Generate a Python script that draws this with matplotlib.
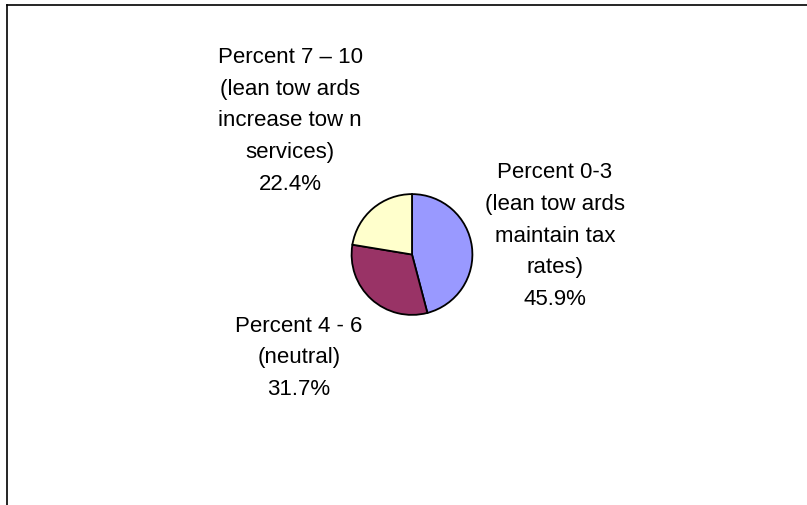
import matplotlib.pyplot as plt
from matplotlib.lines import Line2D

# Survey responses: share of each rating group
categories = [
    "Percent 0-3\n(lean tow ards\nmaintain tax\nrates)",
    "Percent 4 - 6\n(neutral)",
    "Percent 7 \u2013 10\n(lean tow ards\nincrease tow n\nservices)",
]
shares = [45.9, 31.7, 22.4]
colors = ["#9999FF", "#993366", "#FFFFCC"]

# label centres in pixel coordinates (x, y from top)
label_pos = [(555, 236), (299, 358), (290, 121)]

W, H = 807, 505
fig = plt.figure(figsize=(W / 100, H / 100), dpi=100)
plt.rcParams["font.family"] = ["Liberation Sans", "DejaVu Sans"]

# chart frame (only top and left edges fall inside the image)
fig.add_artist(Line2D([7 / W, 1], [1 - 5 / H, 1 - 5 / H], color="black", lw=1.2))
fig.add_artist(Line2D([7 / W, 7 / W], [1 - 5 / H, 0], color="black", lw=1.2))

cx, cy, r = 412, 254.5, 61
ax = fig.add_axes([(cx - r) / W, 1 - (cy + r) / H, 2 * r / W, 2 * r / H])
ax.pie(shares, colors=colors, startangle=90, counterclock=False,
       wedgeprops=dict(edgecolor="black", linewidth=1.3))
ax.set_xlim(-1.01, 1.01)
ax.set_ylim(-1.01, 1.01)
ax.set_aspect("equal")
ax.axis("off")

for cat, val, (x, y) in zip(categories, shares, label_pos):
    fig.text(x / W, 1 - y / H, f"{cat}\n{val:.1f}%", ha="center", va="center",
             fontsize=16, linespacing=1.66, color="black")

fig.savefig("out.png", dpi=100)
